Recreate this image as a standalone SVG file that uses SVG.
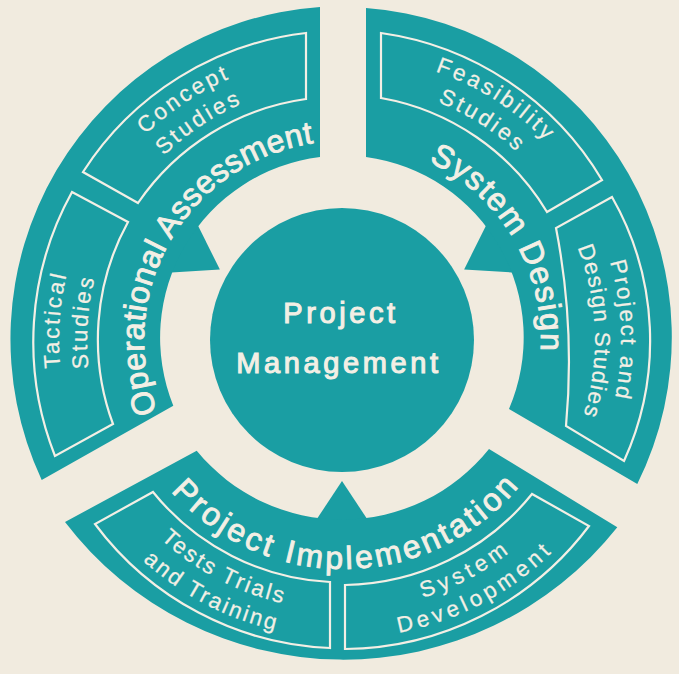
<svg xmlns="http://www.w3.org/2000/svg" width="679" height="674" viewBox="0 0 679 674">
  <style>
    .paper { fill: #f1ebdf; }
    .teal { fill: #1a9ea3; }
    .box { fill: none; stroke: #f3efe5; stroke-width: 2.2; stroke-linejoin: miter; }
    text { font-family: "Liberation Sans", Arial, Helvetica, sans-serif; fill: #f3efe5; text-anchor: middle; }
    .major { font-size: 32px; stroke: #f3efe5; stroke-width: 0.9; }
    .minor { font-size: 22.5px; stroke: #f3efe5; stroke-width: 0.25; }
    .hub { font-size: 29px; letter-spacing: 3.6px; stroke: #f3efe5; stroke-width: 1.1; }
  </style>
  <defs>
    <!-- baselines for the curved labels, centred on (343,340) -->
    <path id="p-oa" d="M170.2,438.7 A199,199 0 0 1 343.9,141"/>
    <path id="p-sd" d="M376,144.8 A198,198 0 0 1 529.5,406.4"/>
    <path id="p-pi" d="M147,458.4 A229,229 0 0 0 543.6,450.5"/>
    <path id="p-cs1" d="M69.7,259.1 A285,285 0 0 1 375.3,56.8"/>
    <path id="p-cs2" d="M96.6,267 A257,257 0 0 1 372.1,84.6"/>
    <path id="p-ts1" d="M113.2,506.9 A284,284 0 0 1 138.7,142.7"/>
    <path id="p-ts2" d="M135.9,490.5 A256,256 0 0 1 158.9,162.2"/>
    <path id="p-fs1" d="M305.9,58.4 A284,284 0 0 1 613.9,254.6"/>
    <path id="p-fs2" d="M309.6,86.2 A256,256 0 0 1 587.1,263"/>
    <path id="p-pd1" d="M549.6,154 A278,278 0 0 1 562.1,511.2"/>
    <path id="p-pd2" d="M530.3,171.4 A252,252 0 0 1 541.6,495.2"/>
    <path id="p-tt1" d="M93.5,443.3 A270,270 0 0 0 401.4,603.6"/>
    <path id="p-tt2" d="M67.7,454 A298,298 0 0 0 407.5,630.9"/>
    <path id="p-sv1" d="M286.9,604.1 A270,270 0 0 0 593.3,441.1"/>
    <path id="p-sv2" d="M281,631.5 A298,298 0 0 0 619.3,451.6"/>
  </defs>

  <rect class="paper" x="0" y="0" width="679" height="674"/>

  <!-- inward pointers from each phase to the hub -->
  <g id="connectors" class="teal">
    <polygon points="219.9,269.5 190.95,211.6 155.25,273.4"/>
    <polygon points="464.1,269.5 528.75,273.4 493.05,211.6"/>
    <polygon points="342,481 306.3,535 377.7,535"/>
  </g>

  <g id="project-management">
    <circle class="teal" cx="342" cy="340" r="132"/>
    <text class="hub" x="341" y="323">Project</text>
    <text class="hub" x="339" y="373">Management</text>
  </g>

  <g id="operational-assessment">
    <path class="teal" d="M41.7,480 A333,333 0 0 1 320,7 L320,157 A182,182 0 0 0 173.3,405.7 Z"/>
    <text class="major" style="letter-spacing:0.45px"><textPath href="#p-oa" startOffset="50%">Operational Assessment</textPath></text>
  </g>

  <g id="system-design">
    <path class="teal" d="M366,8 A330,330 0 0 1 637.3,484 L509,409 A182,182 0 0 0 366,157 Z"/>
    <text class="major" style="letter-spacing:1.5px"><textPath href="#p-sd" startOffset="50%">System Design</textPath></text>
  </g>

  <g id="project-implementation">
    <path class="teal" d="M65,522 A350,350 0 0 0 617.3,527.3 L489,449 A188,188 0 0 1 196.7,450.7 Z"/>
    <text class="major" style="letter-spacing:3.2px"><textPath href="#p-pi" startOffset="50%">Project Implementation</textPath></text>
  </g>

  <g id="concept-studies">
    <path class="box" d="M83,172 A307,307 0 0 1 306,33 L306,99 A244,244 0 0 0 138,203 Z"/>
    <text class="minor" style="letter-spacing:2.8px"><textPath href="#p-cs1" startOffset="50%">Concept</textPath></text>
    <text class="minor" style="letter-spacing:3px"><textPath href="#p-cs2" startOffset="50%">Studies</textPath></text>
  </g>

  <g id="tactical-studies">
    <path class="box" d="M55,456 A310,310 0 0 1 72,192 L128,222 A244,244 0 0 0 113,424 Z"/>
    <text class="minor" style="letter-spacing:2.5px"><textPath href="#p-ts1" startOffset="50%">Tactical</textPath></text>
    <text class="minor" style="letter-spacing:2.5px"><textPath href="#p-ts2" startOffset="50%">Studies</textPath></text>
  </g>

  <g id="feasibility-studies">
    <path class="box" d="M381,33 A307,307 0 0 1 602,180 L547,212 A243,243 0 0 0 381,98 Z"/>
    <text class="minor" style="letter-spacing:3.1px"><textPath href="#p-fs1" startOffset="50%">Feasibility</textPath></text>
    <text class="minor" style="letter-spacing:3px"><textPath href="#p-fs2" startOffset="50%">Studies</textPath></text>
  </g>

  <g id="project-design-studies">
    <path class="box" d="M612,197 A290,290 0 0 1 624,461 L566,426 A700,700 0 0 0 556,228 Z"/>
    <text class="minor" style="letter-spacing:2.3px"><textPath href="#p-pd1" startOffset="50%">Project and</textPath></text>
    <text class="minor" style="letter-spacing:1.5px"><textPath href="#p-pd2" startOffset="50%">Design Studies</textPath></text>
  </g>

  <g id="tests-trials-training">
    <path class="box" d="M153,492 A243,243 0 0 0 330,582 L330,648 A308.5,308.5 0 0 1 95,524 Z"/>
    <text class="minor" style="letter-spacing:2.4px"><textPath href="#p-tt1" startOffset="50%">Tests Trials</textPath></text>
    <text class="minor" style="letter-spacing:2.4px"><textPath href="#p-tt2" startOffset="50%">and Training</textPath></text>
  </g>

  <g id="system-development">
    <path class="box" d="M345,585 A245,245 0 0 0 532,494 L589,526 A308,308 0 0 1 345,649 Z"/>
    <text class="minor" style="letter-spacing:4.5px"><textPath href="#p-sv1" startOffset="50%">System</textPath></text>
    <text class="minor" style="letter-spacing:4.2px"><textPath href="#p-sv2" startOffset="50%">Development</textPath></text>
  </g>
</svg>
